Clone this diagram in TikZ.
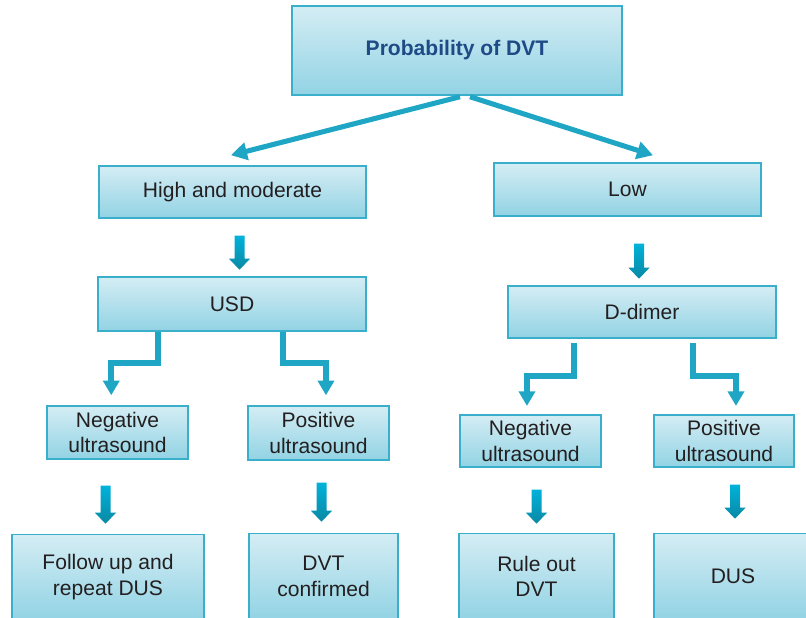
\documentclass[tikz,border=0pt]{standalone}
\usepackage{fontspec}
\setmainfont{Liberation Sans}
\usetikzlibrary{arrows.meta,calc}
\definecolor{boxT}{HTML}{D4EDF4}
\definecolor{boxB}{HTML}{92D3E4}
\definecolor{boxL}{HTML}{3AAFCB}
\definecolor{lineC}{HTML}{1FA6C4}
\definecolor{arrT}{HTML}{00B2DA}
\definecolor{arrB}{HTML}{0B88A4}
\definecolor{txtC}{HTML}{231F20}
\definecolor{titC}{HTML}{1E4A86}
\newcommand\barr[2]{\shade[top color=arrT,bottom color=arrB] #1 ++(-5,0) -- ++(10,0) -- ++(0,{#2-11}) -- ++(5.5,0) -- ++(-10.5,11) -- ++(-10.5,-11) -- ++(5.5,0) -- cycle;}
\begin{document}
\begin{tikzpicture}[x=0.75pt,y=-0.75pt,
  box/.style={rectangle,draw=boxL,line width=1.1pt,top color=boxT,bottom color=boxB,inner sep=0pt,
    text=txtC,align=center,font=\fontsize{15.8}{19}\selectfont},
  diag/.style={lineC,line width=3.8pt,-{Triangle[length=12pt,width=13pt]}},
  elb/.style={lineC,line width=4.5pt,-{Triangle[length=11pt,width=12pt]}}]
\useasboundingbox (0,0) rectangle (806,617);
\begin{scope}
\clip (0,0) rectangle (806,617);
\node[box,minimum width=247.5pt,minimum height=66.75pt,text=titC,font=\fontsize{15.8}{19}\selectfont\bfseries] (top) at (457,50.5) {Probability of DVT};
\node[box,minimum width=200.25pt,minimum height=39pt] (hm) at (232.5,192) {High and moderate};
\node[box,minimum width=200.25pt,minimum height=39.75pt] (low) at (627.5,189.5) {Low};
\node[box,minimum width=201pt,minimum height=40.5pt] (usd) at (232,304) {USD};
\node[box,minimum width=201pt,minimum height=39pt] (dd) at (642,312) {D-dimer};
\node[box,minimum width=105.75pt,minimum height=39.75pt] (negL) at (117.5,432.5) {Negative\\ultrasound};
\node[box,minimum width=105.75pt,minimum height=40.5pt] (posL) at (318.5,433) {Positive\\ultrasound};
\node[box,minimum width=105.75pt,minimum height=39pt] (negR) at (530.5,441) {Negative\\ultrasound};
\node[box,minimum width=105pt,minimum height=39pt] (posR) at (724,441) {Positive\\ultrasound};
\node[box,minimum width=144pt,minimum height=63.75pt] (fol) at (108,577) {Follow up and\\repeat DUS};
\node[box,minimum width=111.75pt,minimum height=64.5pt] (dvtc) at (323.5,576.5) {DVT\\confirmed};
\node[box,minimum width=116.25pt,minimum height=64.5pt] (rule) at (536.5,576.5) {Rule out\\DVT};
\node[box,minimum width=118.5pt,minimum height=64.5pt] (dus) at (733,576.5) {DUS};
% diagonal arrows
\draw[diag] ($(top.south)+(3,1)$) -- ($(hm.north)+(-1.5,-10)$);
\draw[diag] ($(top.south)+(13,1)$) -- ($(low.north)+(25.5,-7)$);
% elbow arrows
\draw[elb] ($(usd.south west)+(61,0)$) -- ++(0,31) -| ($(negL.north west)+(65,-10)$);
\draw[elb] ($(usd.south west)+(185.3,0)$) -- ++(0,31) -| ($(posL.north west)+(78.7,-10)$);
\draw[elb] ($(dd.south west)+(67,4)$) -- ++(0,33) -| ($(negR.north west)+(67.7,-8.3)$);
\draw[elb] ($(dd.south west)+(185.3,4)$) -- ++(0,33) -| ($(posR.north west)+(82.7,-8.3)$);
% block arrows
\barr{($(hm.south)+(7,17)$)}{34}
\barr{($(low.south)+(11.5,27)$)}{35}
\barr{($(negL.south)+(-12,26)$)}{38}
\barr{($(posL.south)+(3,22)$)}{39}
\barr{($(negR.south)+(6,22)$)}{34}
\barr{($(posR.south)+(11,17)$)}{34}
\end{scope}
\end{tikzpicture}
\end{document}
